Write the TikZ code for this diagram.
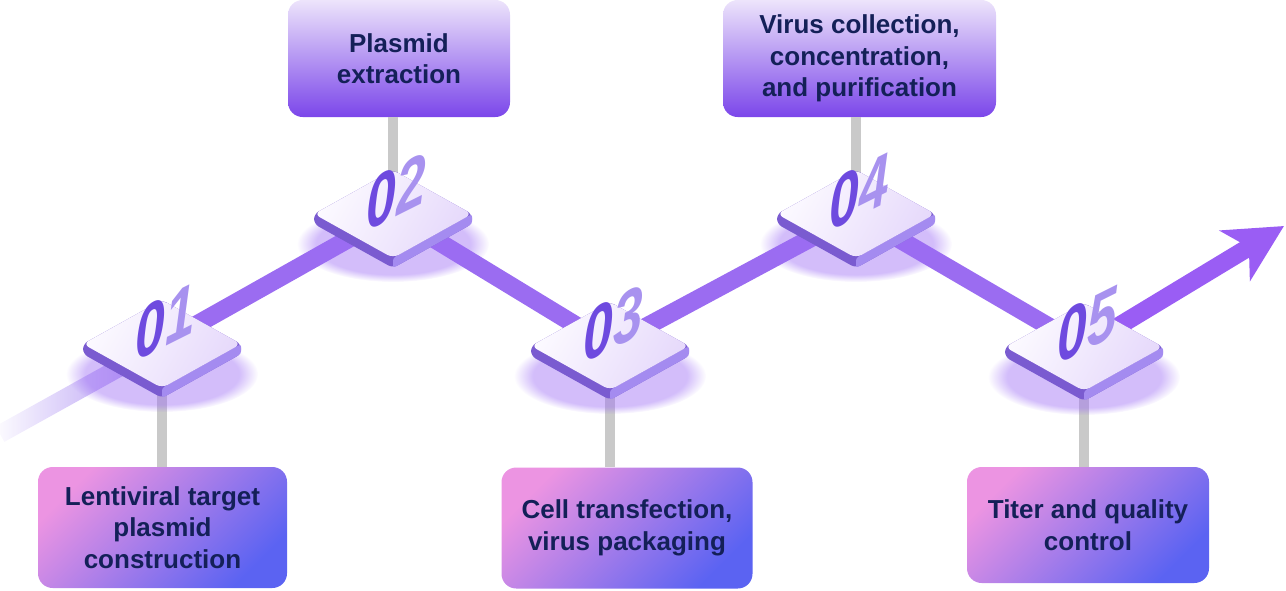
\documentclass[tikz,border=0pt]{standalone}
\usepackage{fontspec}
\setmainfont{Liberation Sans}
\usetikzlibrary{shapes,arrows.meta,positioning,calc,fadings}

\definecolor{barcol}{HTML}{9B6CF1}
\definecolor{arrowcol}{HTML}{9A5DF4}
\definecolor{tailcol}{HTML}{A98BF2}
\definecolor{stemcol}{HTML}{C9C9C9}
\definecolor{textcol}{HTML}{142058}
\definecolor{glowcol}{HTML}{9D6DF5}
\definecolor{sideL}{HTML}{7A5BD0}
\definecolor{sideR}{HTML}{A48BF0}
\definecolor{faceA}{HTML}{FCFAFF}
\definecolor{faceB}{HTML}{E6D9FB}
\definecolor{digA}{HTML}{6E4ADF}
\definecolor{digB}{HTML}{A892EF}
\definecolor{upA}{HTML}{EDE4FB}
\definecolor{upB}{HTML}{7B46EA}
\definecolor{lowA}{HTML}{EC94E2}
\definecolor{lowB}{HTML}{5B63F2}

\tikzfading[name=tailfade, left color=transparent!100, right color=transparent!0]

\tikzset{
  upbox/.style={rounded corners=11pt, inner sep=0pt, align=center, text=textcol,
    font=\fontsize{19.5}{23.6}\selectfont\bfseries, top color=upA, bottom color=upB},
  lowbox/.style={rounded corners=11pt, inner sep=0pt, align=center, text=textcol,
    font=\fontsize{19.5}{23.6}\selectfont\bfseries, top color=lowA, bottom color=lowB,
    shading angle=45},
  stem/.style={draw=stemcol, line width=7.5pt},
  bar/.style={draw=barcol, line width=13.5pt},
}

% one platform with its number
\newcommand{\plate}[2]{%
  \begin{scope}[shift={(#1)}]
    \fill[glowcol, opacity=.45, path fading=circle with fuzzy edge 20 percent] (0,30) ellipse (96 and 38);
    \fill[sideL, rounded corners=4pt] (-79,0) -- (0,-44) -- (79,0) -- (79,10) -- (0,54) -- (-79,10) -- cycle;
    \fill[sideR, rounded corners=2pt] (0,44) -- (79,0) -- (79,10) -- (0,54) -- cycle;
    \shade[left color=faceA, right color=faceB, shading angle=60, rounded corners=5pt]
      (-79,0) -- (0,-44) -- (79,0) -- (0,44) -- cycle;
    \node[font=\fontsize{54}{54}\selectfont\bfseries\itshape, yslant=.5, xscale=.74, inner sep=0pt]
      (#1num) at (3,-22) {\textcolor{digA}{0}\textcolor{digB}{#2}};
  \end{scope}}

\begin{document}
\begin{tikzpicture}[x=0.75pt, y=-0.75pt]
\useasboundingbox (0,0) rectangle (1286,590);

% platform centres
\coordinate (p1) at (162,344);
\coordinate (p2) at (393,214);
\coordinate (p3) at (610,346);
\coordinate (p4) at (856,214);
\coordinate (p5) at (1084,347);
\coordinate (tail) at (0,434);
\coordinate (tip) at (1284,226);

% text boxes
\node[lowbox, minimum width=186.75pt, minimum height=90.75pt] (b1) at (162.5,527.5)
  {Lentiviral target\\plasmid\\construction};
\node[upbox, minimum width=166.5pt, minimum height=87.75pt] (b2) at (399,58.5)
  {Plasmid\\extraction};
\node[lowbox, minimum width=188.25pt, minimum height=90.75pt] (b3) at (627,528)
  {Cell transfection,\\virus packaging};
\node[upbox, minimum width=204.75pt, minimum height=87.75pt] (b4) at (859.5,58.5)
  {Virus collection,\\concentration,\\and purification};
\node[lowbox, minimum width=181.5pt, minimum height=87pt] (b5) at (1088,525)
  {Titer and quality\\control};

% stems
\draw[stem] (b2.south -| p2) -- (p2);
\draw[stem] (b4.south -| p4) -- (p4);
\draw[stem] (p1) -- (p1 |- b1.north);
\draw[stem] (p3) -- (p3 |- b3.north);
\draw[stem] (p5) -- (p5 |- b5.north);

% path
\draw[bar, draw=tailcol, path fading=tailfade] (tail) -- (p1);
\draw[bar] (p1) -- (p2) -- (p3) -- (p4) -- (p5);
\draw[bar, draw=arrowcol, -{Stealth[length=42.75pt, width=43.5pt, inset=12pt]}] (p5) -- (tip);

% platforms
\plate{p1}{1}
\plate{p2}{2}
\plate{p3}{3}
\plate{p4}{4}
\plate{p5}{5}
\end{tikzpicture}
\end{document}
